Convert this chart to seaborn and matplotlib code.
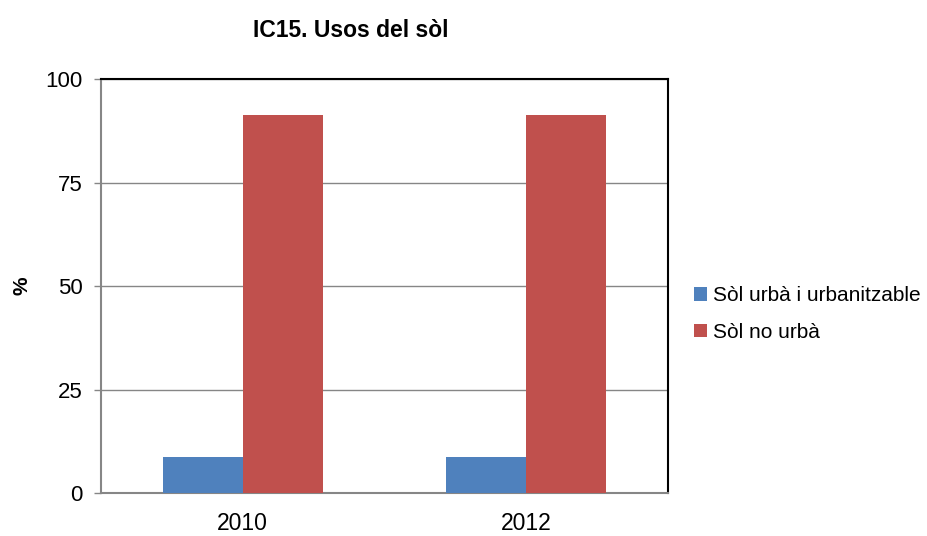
import pandas as pd
import matplotlib.pyplot as plt
import seaborn as sns

# dades
anys = ["2010", "2012"]
series = ["Sòl urbà i urbanitzable", "Sòl no urbà"]
urba = [8.7, 8.7]
no_urba = [91.3, 91.3]
colors = ["#4F81BD", "#C0504D"]

df = pd.DataFrame({
    "any": anys * 2,
    "tipus": [series[0]] * len(anys) + [series[1]] * len(anys),
    "valor": urba + no_urba,
})

sns.set_style("white")
plt.rcParams["font.family"] = ["Liberation Sans", "DejaVu Sans"]
plt.rcParams["text.color"] = "black"
plt.rcParams["axes.labelcolor"] = "black"
plt.rcParams["xtick.labelcolor"] = "black"
plt.rcParams["ytick.labelcolor"] = "black"

fig = plt.figure(figsize=(9.28, 5.36), dpi=100)
ax = fig.add_axes([0.1088, 0.0802, 0.611, 0.7724])

sns.barplot(data=df, x="any", y="valor", hue="tipus", palette=colors,
            width=0.565, saturation=1, linewidth=0, ax=ax, zorder=3)

ax.set_ylim(0, 100)
ax.set_yticks([0, 25, 50, 75, 100])
ax.set_xlim(-0.5, 1.5)
ax.yaxis.grid(True, color="#868686", linewidth=1, zorder=0)
ax.set_axisbelow(True)

ax.tick_params(axis="y", direction="out", length=5, width=1, color="#868686",
               labelsize=16, left=True, pad=8, labelcolor="black")
ax.tick_params(axis="x", length=0, labelsize=16.5, pad=14, labelcolor="black")

for s in ["left", "bottom"]:
    ax.spines[s].set_color("#868686")
    ax.spines[s].set_linewidth(1.5)
for s in ["top", "right"]:
    ax.spines[s].set_color("black")
    ax.spines[s].set_linewidth(1.5)
    ax.spines[s].set_visible(True)

ax.set_xlabel("")
ax.set_ylabel("%", fontsize=15, fontweight="bold", color="black")
ax.yaxis.set_label_coords(-0.122, 0.5)

fig.text(0.378, 0.943, "IC15. Usos del sòl", ha="center", va="center",
         fontsize=16.5, fontweight="bold", color="black")

leg = ax.legend(loc="center left", bbox_to_anchor=(1.013, 0.432), frameon=False,
                fontsize=15, handlelength=0.6, handleheight=0.6, handletextpad=0.3,
                labelspacing=0.85)
for t in leg.get_texts():
    t.set_color("black")

fig.savefig("out.png", dpi=100)
